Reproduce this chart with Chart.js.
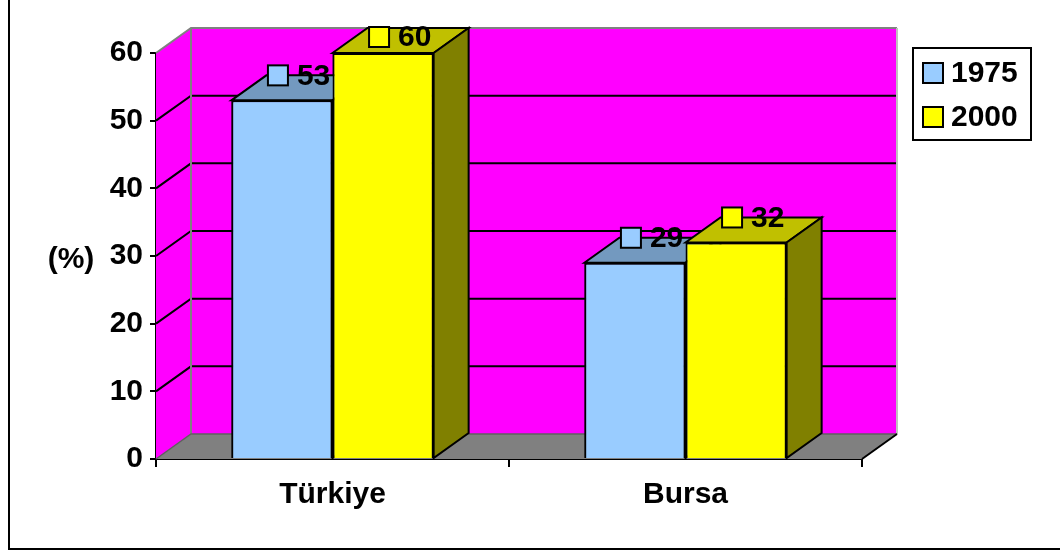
<!DOCTYPE html>
<html>
<head>
<meta charset="utf-8">
<script src="https://cdn.jsdelivr.net/npm/chart.js@4/dist/chart.umd.min.js"></script>
<style>
  body { margin: 0; background: #fff; }
  canvas { display: block; }
</style>
</head>
<body>
<canvas id="chart" width="1060" height="551"></canvas>
<script>
// Data
var categories = ['Türkiye', 'Bursa'];

var seriesNames = ['1975', '2000'];

var values1975 = [53, 29];

var values2000 = [60, 32];

var yTicks = [0, 10, 20, 30, 40, 50, 60];

var FONT = '"Liberation Sans", Arial, sans-serif';

// depth of the 3D box
var DX = 35;

var DY = -25;

var frontColors = ['#99CCFF', '#FFFF00'];

var topColors = ['#7399BF', '#C0C000'];

var sideColors = ['#4C6680', '#808000'];

function poly(ctx, pts, fill, stroke, lw)
{
  ctx.beginPath();

  ctx.moveTo(pts[0][0], pts[0][1]);

  for (var i = 1; i < pts.length; i++)
  {
    ctx.lineTo(pts[i][0], pts[i][1]);
  }

  ctx.closePath();

  if (fill)
  {
    ctx.fillStyle = fill;

    ctx.fill();
  }

  if (stroke)
  {
    ctx.strokeStyle = stroke;

    ctx.lineWidth = lw || 1;

    ctx.stroke();
  }
}

function line(ctx, pts, color, lw)
{
  ctx.beginPath();

  ctx.moveTo(pts[0][0], pts[0][1]);

  for (var i = 1; i < pts.length; i++)
  {
    ctx.lineTo(pts[i][0], pts[i][1]);
  }

  ctx.strokeStyle = color;

  ctx.lineWidth = lw;

  ctx.stroke();
}

// Walls, floor and gridlines behind the bars
var wallsPlugin = {
  id: 'walls',

  beforeDatasetsDraw: function (chart) {
    var ctx = chart.ctx;

    var a = chart.chartArea;

    var y = chart.scales.y;

    ctx.save();

    // left wall
    poly(ctx, [[a.left, a.top], [a.left + DX, a.top + DY], [a.left + DX, a.bottom + DY], [a.left, a.bottom]], '#FF00FF');

    // back wall
    poly(ctx, [[a.left + DX, a.top + DY], [a.right + DX, a.top + DY], [a.right + DX, a.bottom + DY], [a.left + DX, a.bottom + DY]], '#FF00FF');

    // floor
    poly(ctx, [[a.left, a.bottom], [a.left + DX, a.bottom + DY], [a.right + DX, a.bottom + DY], [a.right, a.bottom]], '#808080');

    // gridlines
    for (var i = 1; i < yTicks.length - 1; i++)
    {
      var py = y.getPixelForValue(yTicks[i]);

      line(ctx, [[a.left, py], [a.left + DX, py + DY], [a.right + DX, py + DY]], '#000', 2);
    }

    // wall edges
    line(ctx, [[a.left, a.top], [a.left + DX, a.top + DY], [a.right + DX, a.top + DY]], '#808080', 2);

    line(ctx, [[a.left + DX, a.top + DY], [a.left + DX, a.bottom + DY]], '#808080', 2);

    line(ctx, [[a.right + DX, a.top + DY], [a.right + DX, a.bottom + DY]], '#C0C0C0', 2);

    line(ctx, [[a.left, a.bottom], [a.left + DX, a.bottom + DY], [a.right + DX, a.bottom + DY]], '#606060', 1.5);

    line(ctx, [[a.right, a.bottom], [a.right + DX, a.bottom + DY]], '#000', 2);

    ctx.restore();
  },

  // redraw bars left to right, each with its top and side face,
  // so the 2000 bar covers the side of the 1975 bar
  afterDatasetsDraw: function (chart) {
    var ctx = chart.ctx;

    ctx.save();

    chart.data.datasets.forEach(function (ds, di) {
      chart.getDatasetMeta(di).data.forEach(function (bar) {
        bar.draw(ctx, chart.chartArea);

        var l = bar.x - bar.width / 2;

        var r = bar.x + bar.width / 2;

        poly(ctx, [[l, bar.y], [l + DX, bar.y + DY], [r + DX, bar.y + DY], [r, bar.y]], topColors[di], '#000', 2);

        poly(ctx, [[r, bar.y], [r + DX, bar.y + DY], [r + DX, bar.base + DY], [r, bar.base]], sideColors[di], '#000', 2);
      });
    });

    ctx.restore();
  },

  afterDraw: function (chart) {
    var ctx = chart.ctx;

    ctx.save();

    // data labels with a colour key square
    chart.data.datasets.forEach(function (ds, di) {
      chart.getDatasetMeta(di).data.forEach(function (bar, i) {
        var cy = Math.max(bar.y + DY, 37);

        var mx = bar.x - 14;

        ctx.fillStyle = frontColors[di];

        ctx.fillRect(mx, cy - 10, 20, 20);

        ctx.strokeStyle = '#000';

        ctx.lineWidth = 2;

        ctx.strokeRect(mx, cy - 10, 20, 20);

        ctx.fillStyle = '#000';

        ctx.font = 'bold 30px ' + FONT;

        ctx.textAlign = 'left';

        ctx.textBaseline = 'middle';

        ctx.fillText(String(ds.data[i]), mx + 29, cy + 1);
      });
    });

    // y axis title
    ctx.font = 'bold 30px ' + FONT;

    ctx.textAlign = 'center';

    ctx.textBaseline = 'middle';

    ctx.fillText('(%)', 71, 260);

    // legend
    ctx.fillStyle = '#fff';

    ctx.fillRect(913, 48, 118, 92);

    ctx.strokeStyle = '#000';

    ctx.lineWidth = 2;

    ctx.strokeRect(913, 48, 118, 92);

    seriesNames.forEach(function (name, i) {
      var cy = 73 + i * 44;

      ctx.fillStyle = frontColors[i];

      ctx.fillRect(923, cy - 10, 20, 20);

      ctx.strokeRect(923, cy - 10, 20, 20);

      ctx.fillStyle = '#000';

      ctx.textAlign = 'left';

      ctx.fillText(name, 951, cy + 1);
    });

    // outer frame
    line(ctx, [[9, 0], [9, 549], [1060, 549]], '#000', 2);

    ctx.restore();
  }
};

var chartData = {
  labels: categories,

  datasets: [
    {
      label: seriesNames[0],

      data: values1975,

      backgroundColor: frontColors[0],

      borderColor: '#000',

      borderWidth: 2
    },
    {
      label: seriesNames[1],

      data: values2000,

      backgroundColor: frontColors[1],

      borderColor: '#000',

      borderWidth: 2
    }
  ]
};

new Chart(document.getElementById('chart'), {
  type: 'bar',

  data: chartData,

  plugins: [wallsPlugin],

  options: {
    responsive: false,

    animation: false,

    categoryPercentage: 0.573,

    barPercentage: 1.0,

    layout: {
      padding: { top: 53, right: 198, left: 0, bottom: 0 }
    },

    plugins: {
      legend: { display: false },

      tooltip: { enabled: false }
    },

    scales: {
      x: {
        grid: {
          offset: true,

          drawOnChartArea: false,

          color: '#000',

          tickLength: 8,

          lineWidth: 2
        },
        border: { color: '#000', width: 2 },

        ticks: {
          color: '#000',

          padding: 10,

          font: { family: FONT, size: 30, weight: 'bold' }
        },
        afterFit: function (scale) {
          scale.height = 92;
        }
      },
      y: {
        min: 0,

        max: 60,

        grid: {
          drawOnChartArea: false,

          color: '#000',

          tickLength: 6,

          lineWidth: 2
        },
        border: { color: '#000', width: 2 },

        ticks: {
          stepSize: 10,

          color: '#000',

          padding: 7,

          font: { family: FONT, size: 30, weight: 'bold' }
        },
        afterFit: function (scale) {
          scale.width = 156;
        }
      }
    }
  }
});
</script>
</body>
</html>
